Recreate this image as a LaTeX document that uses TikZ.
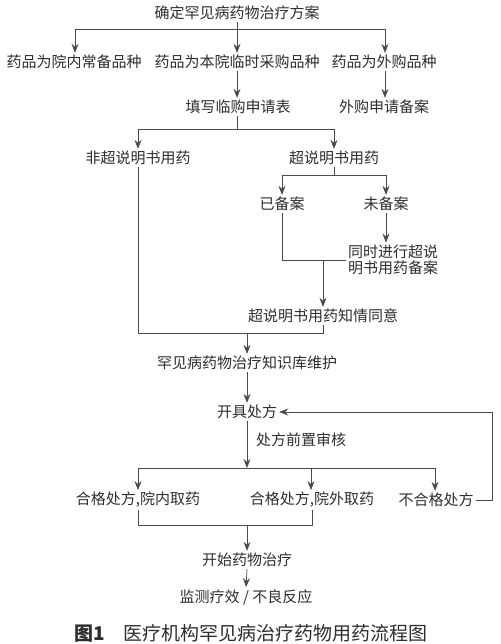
\documentclass[tikz,border=0pt]{standalone}
\usepackage{fontspec}
\setmainfont{Noto Sans CJK SC}
\usetikzlibrary{arrows.meta}
\definecolor{txt}{HTML}{2E2E2E}
\definecolor{lnc}{HTML}{4A4A4A}
\newcommand{\fs}{\fontsize{15}{16.5}\selectfont}
\newcommand{\capfs}{\fontsize{19}{21}\selectfont}
\tikzset{
  lbl/.style={inner sep=2pt, font=\fs, text=txt},
  conn/.style={draw=lnc, line width=0.7pt},
  arr/.style={conn, -{Stealth[length=9pt,width=7pt,inset=3pt]}}
}
\begin{document}
\begin{tikzpicture}[x=1pt,y=-1pt]
\useasboundingbox[fill=white] (0,0) rectangle (500,644);
\node[lbl] (n1) at (237,13) {确定罕见病药物治疗方案};
\node[lbl] (n2a) at (74,62) {药品为院内常备品种};
\node[lbl] (n2b) at (237,62) {药品为本院临时采购品种};
\node[lbl] (n2c) at (384,62) {药品为外购品种};
\node[lbl] (n3a) at (238,107) {填写临购申请表};
\node[lbl] (n3b) at (384,107) {外购申请备案};
\node[lbl] (n4a) at (138,158) {非超说明书用药};
\node[lbl] (n4b) at (334,158) {超说明书用药};
\node[lbl] (n5a) at (282,204) {已备案};
\node[lbl] (n5b) at (386,204) {未备案};
\node[lbl, align=left] (n6) at (393,260) {同时进行超说\\明书用药备案};
\node[lbl] (n7) at (323,316) {超说明书用药知情同意};
\node[lbl] (n8) at (247,363) {罕见病药物治疗知识库维护};
\node[lbl] (n9) at (247,412) {开具处方};
\node[lbl, anchor=west] (rev) at (254,440) {处方前置审核};
\node[lbl] (n10a) at (138,500) {合格处方,院内取药};
\node[lbl] (n10b) at (312,500) {合格处方,院外取药};
\node[lbl] (n10c) at (436,500) {不合格处方};
\node[lbl] (n11) at (247,560) {开始药物治疗};
\node[lbl] (n12) at (246,597) {监测疗效 / 不良反应};
\node[inner sep=0pt, text=txt, font=\capfs] (cap) at (251,633) {\textbf{图1}\quad 医疗机构罕见病治疗药物用药流程图};

\coordinate (j1) at (237,29);
\coordinate (j2) at (237,129);
\coordinate (j3) at (334,175);
\coordinate (j5) at (0,333);
\coordinate (j6) at (247,468);
\coordinate (j7) at (0,525);
\coordinate (fb) at (492,0);

\draw[conn] (n1.south) -- (j1);
\draw[arr] (j1) -| ([xshift=1pt]n2a.north);
\draw[arr] (j1) -- (n2b.north);
\draw[arr] (j1) -| ([xshift=1pt]n2c.north);

\draw[arr] (n2b.south) -- (n2b.south |- n3a.north);
\draw[arr] ([xshift=1pt]n2c.south) -- ([xshift=1pt]n2c.south |- n3b.north);

\draw[conn] (n3a.south -| j2) -- (j2);
\draw[arr] (j2) -| (n4a.north);
\draw[arr] (j2) -| (n4b.north);

\draw[conn] (n4b.south) -- (j3);
\draw[arr] (j3) -| (n5a.north);
\draw[arr] (j3) -| (n5b.north);

\draw[arr] (n5b.south) -- (n5b.south |- n6.north);
\draw[conn] (n5a.south) |- (n6.west);
\draw[arr] (n7.north |- n6.west) -- (n7.north);

\draw[conn] (n4a.south) |- (n7.south |- j5) -- (n7.south);
\draw[arr] (n8.north |- j5) -- (n8.north);

\draw[arr] (n8.south) -- (n9.north);
\draw[arr] (n9.south) -- (j6);
\draw[arr] (j6) -| (n10a.north);
\draw[arr] (j6) -| ([xshift=-1pt]n10b.north);
\draw[arr] (j6) -| ([xshift=-1pt]n10c.north);

\draw[arr] (n10c.east) -| (fb |- n9.east) -- (n9.east);

\draw[conn] (n10a.south) |- (n10b.south |- j7) -- (n10b.south);
\draw[arr] (n11.north |- j7) -- (n11.north);
\draw[arr] (n11.south) -- (n12.north);
\end{tikzpicture}
\end{document}
